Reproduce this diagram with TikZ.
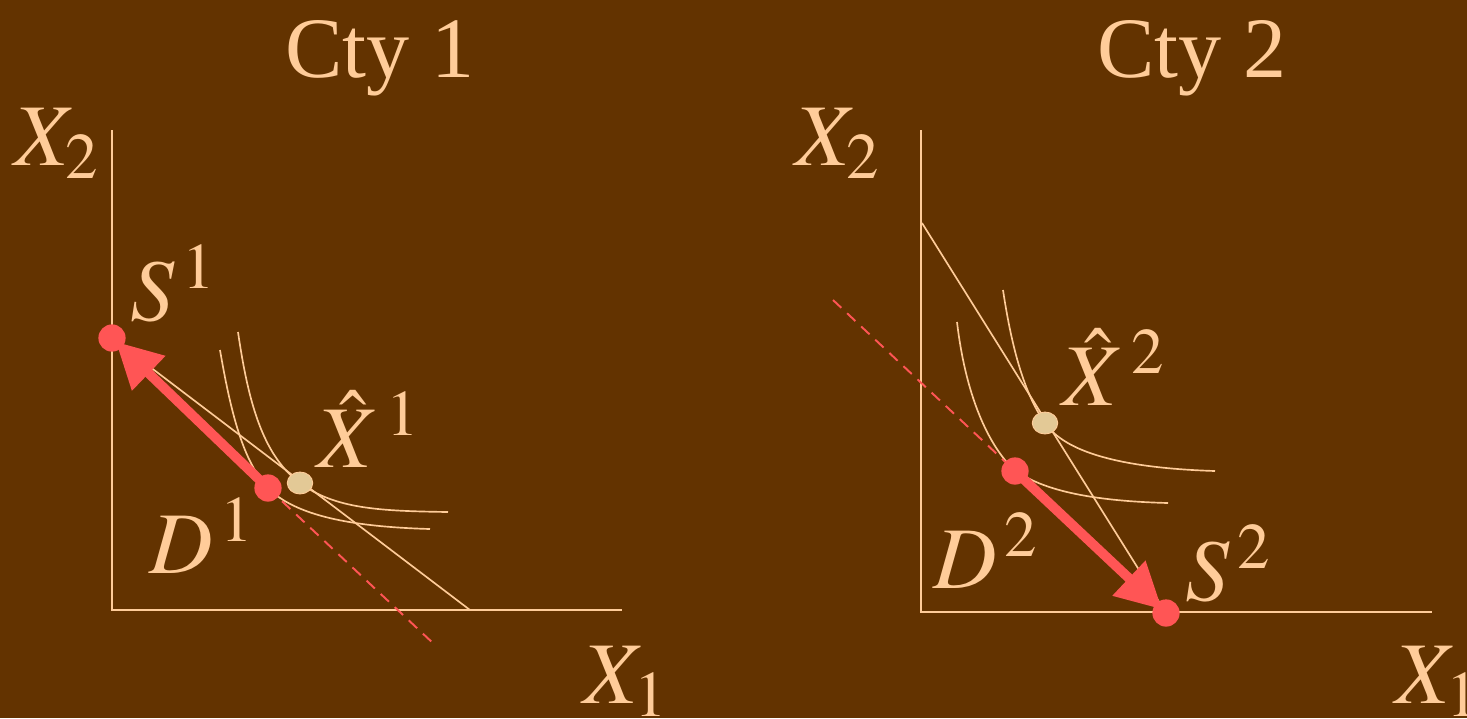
\documentclass[tikz,border=0pt]{standalone}
\usepackage{mathptmx}
\usepackage[no-math]{fontspec}
\setmainfont{Liberation Serif}
\usetikzlibrary{shapes.geometric,arrows.meta}
\definecolor{bgbrown}{HTML}{633300}
\definecolor{peach}{HTML}{FFCC99}
\definecolor{redpt}{HTML}{FF5555}
\definecolor{eqtan}{HTML}{E3C996}
\tikzset{axis/.style={draw=peach,line width=1.2pt},
 budget/.style={draw=peach,line width=0.95pt},
 indiff/.style={draw=peach,line width=0.95pt},
 tradeln/.style={draw=redpt,line width=1.1pt,dash pattern=on 6.5pt off 4.5pt},
 trade/.style={draw=redpt,line width=5.5pt,-{Triangle[length=26pt,width=26pt]},shorten >=3pt},
 pt/.style={circle,fill=redpt,inner sep=0pt,minimum size=15.5pt},
 eqpt/.style={ellipse,fill=eqtan,draw=peach,line width=0.5pt,inner sep=0pt,minimum width=14.5pt,minimum height=12.5pt},
 lbl/.style={text=peach,inner sep=0pt,anchor=base west,font=\fontsize{50}{60}\selectfont},
 ttl/.style={text=peach,inner sep=0pt,anchor=base west,font=\fontsize{49}{60}\selectfont}}

\begin{document}
\begin{tikzpicture}[x=0.02cm,y=-0.02cm]
\path[use as bounding box,fill=bgbrown](0,0) rectangle (1467,718);
% country 1
\node[ttl](t1) at(285,77){Cty 1};
\coordinate(o1) at(112,610);\coordinate(y1) at(112,130);\coordinate(x1) at(622,610);
\coordinate(s1) at(112,338);\coordinate(d1) at(268,488);\coordinate(e1) at(300,483);
\coordinate(b1) at(470,610);\coordinate(r1) at(435,645);
\draw[axis](y1)--(o1)--(x1);
\draw[budget](s1)--(b1);
\draw[indiff](238,332) .. controls (248,400) and (262,455) .. (e1) .. controls (335,509) and (380,511) .. (448,512);
\draw[indiff](220,350) .. controls (232,420) and (245,465) .. (270,490) .. controls (300,518) and (360,527) .. (430,529);
\draw[tradeln](d1)--(r1);
\draw[trade](d1)--(s1);
\node[pt](S1) at(s1){};\node[pt](D1) at(d1){};\node[eqpt](E1) at(e1){};
\node[lbl](ly1) at(14,165){$X_2$};
\node[lbl](lx1) at(583,703){$X_1$};
\node[lbl](ls1) at(130,320){$S^{\,1}$};
\node[lbl](ld1) at(149,573){$D^{\,1}$};
\node[lbl](le1) at(317,467){$\hat{X}^{\,1}$};
% country 2
\node[ttl](t2) at(1097,77){Cty 2};
\coordinate(o2) at(921,612);\coordinate(y2) at(921,130);\coordinate(x2) at(1432,612);
\coordinate(s2) at(1166,613);\coordinate(d2) at(1015,471);\coordinate(e2) at(1045,423);
\coordinate(b2) at(922,223);\coordinate(r2) at(833,300);
\draw[axis](y2)--(o2)--(x2);
\draw[budget](b2)--(s2);
\draw[indiff](1003,290) .. controls (1012,350) and (1025,395) .. (e2) .. controls (1065,452) and (1120,468) .. (1215,471);
\draw[indiff](957,322) .. controls (965,390) and (985,440) .. (1012,468) .. controls (1040,490) and (1090,501) .. (1168,503);
\draw[tradeln](r2)--(d2);
\draw[trade](d2)--(s2);
\node[pt](S2) at(s2){};\node[pt](D2) at(d2){};\node[eqpt](E2) at(e2){};
\node[lbl](ly2) at(795,165){$X_2$};
\node[lbl](lx2) at(1395,703){$X_1$};
\node[lbl](ls2) at(1185,600){$S^{\,2}$};
\node[lbl](ld2) at(933,588){$D^{\,2}$};
\node[lbl](le2) at(1062,405){$\hat{X}^{\,2}$};
\end{tikzpicture}
\end{document}
